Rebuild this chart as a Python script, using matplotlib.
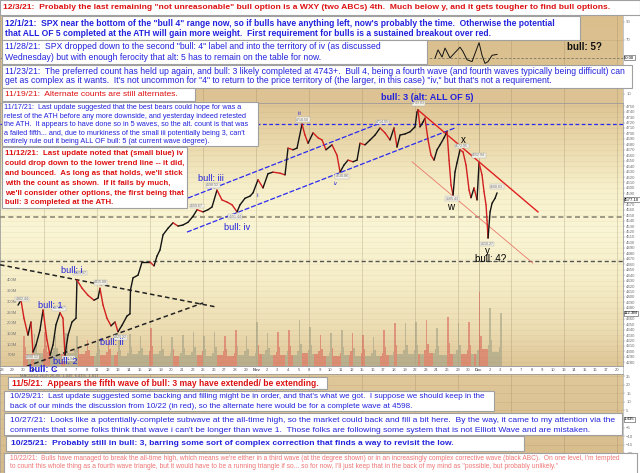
import numpy as np
import matplotlib
matplotlib.use("Agg")
import matplotlib.pyplot as plt
from matplotlib.collections import LineCollection
from matplotlib.patches import Rectangle

plt.rcParams['font.family'] = ['Liberation Sans', 'DejaVu Sans']

# ---------------- data ----------------
# hourly-ish SPX path, x = trading day index (0 = Sep 30 2021)
t = [-0.47, -0.19, 0.09, 0.47, 0.75, 0.94, 1.23, 1.60, 1.89, 2.26,
     2.55, 2.83, 3.11, 3.49, 3.77, 3.96, 4.25, 4.62, 5.0, 5.09,
     5.57, 6.13, 6.70, 7.08, 7.26, 7.55, 7.92, 8.30, 8.68, 8.96,
     9.34, 9.81, 10.09, 10.14, 10.38, 10.85, 11.23, 11.98, 12.36, 12.64,
     12.92, 13.21, 13.68, 14.15, 14.62, 15.09, 15.57, 16.04, 16.42, 16.98,
     17.45, 17.83, 18.30, 18.77, 19.25, 19.72, 20.19, 20.47, 20.94, 21.42,
     21.70, 22.17, 22.64, 23.11, 23.58, 24.25, 24.72, 25.0, 25.47, 25.85,
     26.32, 26.60, 26.89, 27.36, 27.83, 28.21, 28.58, 29.15, 29.62, 29.91,
     30.28, 30.66, 31.13, 31.51, 31.79, 32.26, 32.74, 33.21, 33.68, 34.15,
     34.62, 35.0, 35.28, 35.57, 36.04, 36.51, 36.98, 37.17, 37.26, 37.45,
     37.74, 37.92, 38.21, 38.49, 38.77, 39.06, 39.34, 39.72, 40.0, 40.19,
     40.38, 40.57, 40.75, 40.94, 41.23, 41.51, 41.79, 42.08, 42.26, 42.55,
     42.83, 43.02, 43.30, 43.49, 43.68, 43.77, 43.87, 44.06, 44.25, 44.53,
     44.72]
price = [4385, 4394, 4361, 4330, 4354, 4299, 4312, 4339, 4376, 4321,
         4293, 4312, 4349, 4371, 4361, 4293, 4330, 4354, 4361, 4431,
         4416, 4403, 4394, 4398, 4416, 4385, 4361, 4347, 4354, 4336,
         4348, 4365, 4369, 4413, 4435, 4440, 4464, 4464, 4457, 4475,
         4486, 4514, 4526, 4536, 4530, 4532, 4537, 4548, 4560, 4556,
         4560, 4565, 4596, 4578, 4574, 4569, 4556, 4569, 4581, 4585,
         4591, 4615, 4600, 4626, 4629, 4627, 4624, 4673, 4670, 4673,
         4717, 4697, 4682, 4701, 4692, 4688, 4670, 4679, 4660, 4629,
         4642, 4651, 4648, 4651, 4682, 4679, 4688, 4697, 4710, 4701,
         4688, 4710, 4675, 4697, 4699, 4703, 4712, 4739, 4743, 4712,
         4721, 4728, 4688, 4660, 4651, 4670, 4679, 4692, 4703, 4651,
         4605, 4587, 4629, 4646, 4670, 4666, 4642, 4596, 4582, 4600,
         4578, 4646, 4624, 4593, 4569, 4541, 4508, 4556, 4572, 4581,
         4591]

# volume (millions): opening bar, second bar, mid-session bars, closing bar
vol_open = [140, 150, 160, 140, 155, 140, 120, 125, 130, 125,
            150, 140, 177, 140, 135, 145, 159, 140, 159, 140,
            168, 140, 205, 154, 159, 168, 215, 182, 145, 154,
            168, 154, 145, 135, 168, 201, 201, 205, 215, 177,
            229, 201, 205, 346, 271, 248]
vol_2nd = [90, 95, 100, 85, 95, 85, 75, 78, 80, 75,
           88, 84, 92, 80, 78, 82, 88, 80, 88, 80,
           92, 80, 100, 84, 88, 92, 105, 96, 80, 84,
           90, 84, 80, 76, 88, 98, 98, 100, 105, 92,
           108, 100, 100, 140, 120]
vol_mid = [58, 62, 64, 56, 60, 55, 48, 50, 52, 48,
           55, 52, 54, 48, 46, 50, 53, 48, 52, 48,
           53, 48, 58, 50, 52, 53, 60, 55, 46, 48,
           52, 48, 46, 45, 50, 55, 55, 56, 60, 52,
           58, 55, 56, 80, 66]
vol_close = [76, 80, 82, 73, 77, 70, 63, 65, 67, 63,
             72, 68, 71, 63, 62, 65, 70, 63, 68, 63,
             70, 63, 75, 66, 68, 70, 77, 72, 62, 63,
             68, 63, 62, 60, 66, 73, 73, 75, 79, 50,
             77, 73, 75, 100, 88]

# oscillator in the top panel (only the uncovered stretch)
osc_t = [38.87, 39.15, 39.53, 39.81, 40.28, 40.75, 41.23, 41.51, 41.89,
         42.36, 42.83, 43.02, 43.30, 43.58, 43.87, 44.25, 44.72]
osc = [50, 59, 51, 61, 50, 56, 62, 57, 48, 46, 61, 67, 53, 44, 46, 53, 54]

day_idx = list(range(-2, 58))
day_lab = ['28', '29', '30', 'Oct', '4', '5', '6', '7', '8', '11', '12', '13', '14', '15',
           '18', '19', '20', '21', '22', '25', '26', '27', '28', '29', 'Nov', '2', '3', '4',
           '5', '8', '9', '10', '11', '12', '15', '16', '17', '18', '19', '22', '23', '24',
           '26', '29', '30', 'Dec', '2', '3', '6', '7', '8', '9', '10', '13', '14', '15',
           '16', '17', '20', '21']
mondays = [2, 7, 12, 17, 22, 27, 32, 37, 41, 46, 51, 56]

# trend lines: (t0, t1), (p0, p1)
chan_up = ([15.57, 33.96], [4581.5, 4721])
chan_lo = ([15.47, 40.75], [4519, 4710])
red_up = ([37.26, 48.58], [4743, 4556])
red_lo = ([36.7, 48.1], [4648, 4462])
tri_up = ([-2.17, 18.11], [4459, 4382])
tri_lo = ([0.38, 16.98], [4273, 4389])
lvl_blue, lvl_grey, lvl_dark = 4717, 4546, 4466

wave_labels = [  # t, price, text, colour, size, weight
    (38.1, 4765, 'bull: 3 (alt: ALL OF 5)', '#2222dd', 6.6, 'bold'),
    (17.7, 4618, 'bull: iii', '#2222dd', 6.6, 'normal'),
    (20.2, 4528, 'bull: iv', '#2222dd', 6.6, 'normal'),
    (4.6, 4448, 'bull: i', '#2222dd', 6.6, 'normal'),
    (2.55, 4385, 'bull: 1', '#2222dd', 6.6, 'normal'),
    (8.4, 4317, 'bull: ii', '#2222dd', 6.6, 'normal'),
    (4.0, 4281, 'bull: 2', '#2222dd', 6.6, 'normal'),
    (1.9, 4267, 'bull: C', '#2222dd', 6.6, 'bold'),
    (26.1, 4737, 'iii', '#2222dd', 3.8, 'normal'),
    (29.5, 4609, 'iv', '#2222dd', 3.8, 'normal'),
    (22.2, 4587, 'ii', '#2222dd', 3.8, 'normal'),
    (41.5, 4688, 'x', 'black', 7, 'normal'),
    (40.3, 4565, 'w', 'black', 7, 'normal'),
    (43.8, 4484, 'y', 'black', 7, 'normal'),
    (44.1, 4469, 'bull: 4?', 'black', 7, 'normal'),
]
price_tags = [  # t, price, text
    (37.3, 4755, '4743.83'), (26.4, 4725, '4718.50'), (33.9, 4721, '4714.95'),
    (30.1, 4621, '4630.86'), (41.4, 4677, '4672.95'), (40.5, 4580, '4585.43'),
    (43.8, 4497, '4510.27'), (43.0, 4660, '4652.94'), (44.7, 4602, '4608.03'),
    (17.9, 4605, '4598.53'), (20.0, 4547, '4551.44'), (16.4, 4567, '4559.67'),
    (-0.1, 4396, '4382.44'), (5.4, 4444, '4429.97'), (7.3, 4427, '4415.88'),
    (3.4, 4379, '4374.67'), (0.9, 4290, '4288.52'), (4.3, 4287, '4278.94'),
    (9.2, 4326, '4329.92'),
]
vol_ticks = [50, 100, 150, 200, 250, 300, 350, 400]

notes = [  # box (x0, y0, x1, y1) px, text x, line y's, lines, colour, weight, fit line, fit end
    ((0, 0, 640, 15), 3, [7.5],
     ['12/3/21:  Probably the last remaining "not unreasonable" bull option is a WXY (two ABCs) 4th.  Much below y, and it gets tougher to find bull options.'],
     '#dd1111', 'bold', 0, 612),
    ((2, 16, 580, 40), 5, [23.3, 33.5],
     ['12/1/21:  SPX near the bottom of the "bull 4" range now, so if bulls have anything left, now\'s probably the time.  Otherwise the potential',
      'that ALL OF 5 completed at the ATH will gain more weight.  First requirement for bulls is a sustained breakout over red.'],
     '#2222dd', 'bold', 0, 563),
    ((2, 40, 427, 64), 5, [46.8, 57.2],
     ['11/28/21:  SPX dropped down to the second "bull: 4" label and into the territory of iv (as discussed',
      'Wednesday) but with enough ferocity that alt: 5 has to remain on the table for now.'],
     '#2222dd', 'normal', 0, 386),
    ((2, 65, 632, 88), 5, [71, 80.8],
     ['11/23/21:  The preferred count has held up again, and bull: 3 likely completed at 4743+.  Bull 4, being a fourth wave (and fourth waves typically being difficult) can',
      'get as complex as it wants.  It\'s not uncommon for "4" to return to the price territory of (the larger, in this case) "iv," but that\'s not a requirement.'],
     '#2222dd', 'normal', 0, 628),
    ((2, 88, 195, 101), 5, [94.3],
     ['11/19/21:  Alternate counts are still alternates.'],
     '#dd1111', 'normal', 0, 179),
    ((2, 102, 258, 146), 4, [107.5, 116, 124.7, 133.3, 141.7],
     ['11/17/21:  Last update suggested that the best bears could hope for was a',
      'retest of the ATH before any more downside, and yesterday indeed retested',
      'the ATH.  It appears to have done so in 5 waves, so the alt. count is that was',
      'a failed fifth... and, due to murkiness of the small iii potentially being 3, can\'t',
      'entirely rule out it being ALL OF bull: 5 (at current wave degree).'],
     '#2222dd', 'normal', 2, 253),
    ((2, 147, 187, 208), 5, [153.3, 163.3, 173.3, 183.3, 193.3, 202],
     ['11/12/21:  Last update noted that (small blue) iv',
      'could drop down to the lower trend line -- it did,',
      'and bounced.  As long as that holds, we\'ll stick',
      'with the count as shown.  If it fails by much,',
      'we\'ll consider other options, the first being that',
      'bull: 3 completed at the ATH.'],
     '#dd1111', 'bold', 1, 185),
    ((8, 377, 327, 389), 12, [383.5],
     ['11/5/21:  Appears the fifth wave of bull: 3 may have extended/ be extending.'],
     '#dd1111', 'bold', 0, 322),
    ((4, 391, 494, 411), 10, [397, 406.3],
     ['10/29/21:  Last update suggested some backing and filling might be in order, and that\'s what we got.  I suppose we should keep in the',
      'back of our minds the discussion from 10/22 (in red), so the alternate here would be for a complete wave at 4598.'],
     '#2222dd', 'normal', 0, 488),
    ((4, 413, 622, 435), 10, [420, 430.3],
     ['10/27/21:  Looks like a potentially-complete subwave at the all-time high, so the market could back and fill a bit here.  By the way, it came to my attention via the',
      'comments that some folks think that wave i can\'t be longer than wave 1.  Those folks are following some system that is not Elliott Wave and are mistaken.'],
     '#2222dd', 'normal', 0, 620),
    ((6, 436, 524, 451), 11, [443.7],
     ['10/25/21:  Probably still in bull: 3, barring some sort of complex correction that finds a way to revisit the low.'],
     '#2222dd', 'bold', 0, 455),
    ((4, 453, 637, 476), 10, [458.3, 466.5],
     ['10/22/21:  Bulls have managed to break the all-time high, which means we\'re either in a third wave (at the degree shown) or in an increasingly complex corrective wave (black ABC).  On one level, I\'m tempted',
      'to count this whole thing as a fourth wave triangle, but it would have to be a running triangle if so... so for now, I\'ll just keep that in the back of my mind as "possible, but probably unlikely."'],
     '#f07474', 'normal', 0, 624),
]

# ---------------- layout ----------------
W, H = 640, 473
fig = plt.figure(figsize=(6.4, 4.73), dpi=100, facecolor='white')


def rect_px(x0, y0, x1, y1):
    return [x0 / W, 1 - y1 / H, (x1 - x0) / W, (y1 - y0) / H]


def shade(a, stops):
    pos = [s[0] for s in stops]
    cols = np.array([s[1] for s in stops]) / 255.0
    yy = np.linspace(0, 1, 256)
    img = np.stack([np.interp(yy, pos, cols[:, k]) for k in range(3)], axis=1)[:, None, :]
    a.imshow(img, extent=[0, 1, 0, 1], transform=a.transAxes, aspect='auto',
             origin='lower', zorder=0, interpolation='bilinear')


X0, X1 = -2.17, 56.6
tick_kw = dict(labelsize=3.1, labelcolor='#707070', color='#888888', length=1.5, width=0.3, pad=0.8)

ax_m = fig.add_axes(rect_px(0, 374, 623, 473))
ax_d = fig.add_axes(rect_px(0, 366, 623, 374))
ax_o = fig.add_axes(rect_px(0, 0, 623, 103))
ax_v = fig.add_axes(rect_px(0, 103, 623, 366))
ax = fig.add_axes(rect_px(0, 103, 623, 366), facecolor='none')

shade(ax_m, [(0, (214, 186, 138)), (1, (224, 200, 154))])
shade(ax_o, [(0, (222, 196, 148)), (1, (218, 190, 140))])
shade(ax_v, [(0, (222, 197, 150)), (0.137, (236, 220, 178)), (0.327, (246, 238, 200)),
             (0.517, (250, 245, 212)), (0.67, (247, 240, 203)), (0.82, (236, 220, 176)),
             (1, (222, 196, 148))])

for a in (ax_m, ax_d, ax_o, ax_v, ax):
    a.set_xlim(X0, X1)
    a.set_xticks([])
    for s in a.spines.values():
        s.set_linewidth(0.4)
        s.set_color('#9a9a9a')

# weekly separators
for a in (ax_m, ax_o, ax_v):
    for m in mondays:
        a.axvline(m, color=(0.55, 0.47, 0.34), alpha=0.35, lw=0.5, zorder=1)
ax_v.axvline(43, color=(0.5, 0.45, 0.35), alpha=0.45, lw=0.6, zorder=1)

# ---- volume ----
bt, bv = [], []
for d in range(len(vol_open)):
    seq = [vol_open[d]]
    if d < len(vol_2nd):
        seq += [vol_2nd[d]] + [vol_mid[d]] * 4 + [vol_close[d]]
    for k, v in enumerate(seq):
        bt.append(d + k / 7.0)
        bv.append(v)
bt = np.array(bt)
p0 = np.interp(bt, t, price)
p1 = np.interp(bt + 1 / 7.0, t, price)
vcol = ['#da6a5c' if b < a else '#a3a286' for a, b in zip(p0, p1)]
ax_v.bar(bt, bv, width=1 / 7.0, align='edge', color=vcol, alpha=0.62, lw=0, zorder=2)
ax_v.set_ylim(0, 1229)
ax_v.set_yticks([])
for v in vol_ticks:
    ax_v.text(-1.05, v, '%dM' % v, fontsize=3, color='#777777', ha='center', va='center', zorder=3)

# ---- price panel ----
ax.set_ylim(4273.3, 4755.8)
ax.yaxis.tick_right()
ax.set_yticks(range(4280, 4751, 10))
ax.set_yticklabels([str(v) for v in range(4280, 4751, 10)])
ax.tick_params(axis='y', **tick_kw)
for v in range(4280, 4751, 10):
    ax.axhline(v, color=(0.55, 0.45, 0.3), alpha=0.10, lw=0.4, zorder=1)

ax.axhline(lvl_blue, color='#2a2af0', lw=0.9, ls=(0, (3, 2)), zorder=3)
ax.axhline(lvl_grey, color='#8f8a78', lw=1.2, ls=(0, (3, 2)), zorder=3)
ax.axhline(lvl_dark, color='#555555', lw=1.0, ls=(0, (3, 2)), zorder=3)

ax.plot(*chan_up, color='#2a2af0', lw=0.9, ls=(0, (4, 1.5)), zorder=3)
ax.plot(*chan_lo, color='#2a2af0', lw=0.9, ls=(0, (4, 1.5)), zorder=3)
ax.plot(*red_up, color='#e02020', lw=1.0, zorder=3)
ax.plot(*red_lo, color='#e87a6a', lw=0.6, zorder=3)
ax.plot(*tri_up, color='#222222', lw=1.1, ls=(0, (3, 2)), zorder=3)
ax.plot(*tri_lo, color='#222222', lw=1.1, ls=(0, (3, 2)), zorder=3)

pts = np.column_stack([t, price])
segs = np.stack([pts[:-1], pts[1:]], axis=1)
rising = np.diff(price) >= 0
seg_col = [(0.08, 0.08, 0.08) if r else (0.82, 0.12, 0.12) for r in rising]
ax.add_collection(LineCollection(segs, colors=seg_col, linewidths=1.0, zorder=4, capstyle='round'))

for tx, py, s, c, fs, wt in wave_labels:
    ax.text(tx, py, s, color=c, fontsize=fs, weight=wt, ha='center', va='center', zorder=6, clip_on=False)
for tx, py, s in price_tags:
    ax.text(tx, py, s, fontsize=2.6, color='#777777', ha='center', va='center', zorder=5,
            bbox=dict(boxstyle='square,pad=0.1', fc='#f4f1e6', ec='#b0b0b0', lw=0.3))

tag = dict(boxstyle='square,pad=0.12', fc='white', ec='#444444', lw=0.4)
ax.text(X1 + 0.1, 4578, '4577.10', fontsize=3.1, ha='left', va='center', bbox=tag, clip_on=False, zorder=7)
ax.text(X1 + 0.1, 4370, '112.3M', fontsize=3.1, ha='left', va='center', bbox=tag, clip_on=False, zorder=7)

# ---- top oscillator ----
ax_o.set_ylim(0, 114.4)
ax_o.yaxis.tick_right()
ax_o.set_yticks([10, 30, 50, 70, 90])
ax_o.tick_params(axis='y', **tick_kw)
for v in (30, 70):
    ax_o.axhline(v, color=(0.5, 0.42, 0.3), alpha=0.25, lw=0.4)
ax_o.axhline(50, color='#777766', lw=0.6, ls=(0, (3, 2)))
ax_o.plot(osc_t, osc, color='#111111', lw=0.7)
ax_o.text(X1 + 0.1, 50, '50.00', fontsize=3.1, ha='left', va='center', bbox=tag, clip_on=False, zorder=7)
ax_o.text(53.0, 62, 'bull: 5?', fontsize=7, weight='bold', color='#111111', ha='center', va='center')

# ---- date strip ----
ax_d.set_facecolor('white')
ax_d.set_yticks([])
ax_d.set_ylim(0, 1)
for d, lab in zip(day_idx, day_lab):
    ax_d.text(d, 0.5, lab, fontsize=3.0, color='#555555', ha='center', va='center', clip_on=True,
              weight='bold' if lab in ('Nov', 'Dec', 'Oct') else 'normal')

# ---- MACD panel ----
ax_m.set_ylim(-31.4, 26.2)
ax_m.yaxis.tick_right()
ax_m.set_yticks(range(-20, 26, 5))
ax_m.tick_params(axis='y', **tick_kw)
for v in range(-30, 26, 5):
    ax_m.axhline(v, color=(0.5, 0.42, 0.3), alpha=0.18, lw=0.4)
ax_m.text(X1 + 0.1, 0, '1.435', fontsize=3.1, ha='left', va='center', bbox=tag, clip_on=False, zorder=7)
fig.text(20 / W, 1 - 375.5 / H, 'MACD(12,26,9) 26.40, 1.435  6.43%  1.817', fontsize=3, color='#666666',
         ha='left', va='center')

# ---- commentary boxes ----
renderer = fig.canvas.get_renderer()
for (x0, y0, x1, y1), tx, ys, lines, col, wt, fit_i, fit_end in notes:
    fig.add_artist(Rectangle((x0 / W, 1 - y1 / H), (x1 - x0) / W, (y1 - y0) / H,
                             transform=fig.transFigure, fc='white', ec='#a0a0a0', lw=0.8, zorder=5))
    texts = [fig.text(tx / W, 1 - ly / H, s, color=col, weight=wt, fontsize=6, ha='left',
                      va='center', zorder=6) for ly, s in zip(ys, lines)]
    w = texts[fit_i].get_window_extent(renderer=renderer).width
    for tt in texts:
        tt.set_fontsize(6 * (fit_end - tx) / w)

fig.savefig('out.png', dpi=100, facecolor='white')
